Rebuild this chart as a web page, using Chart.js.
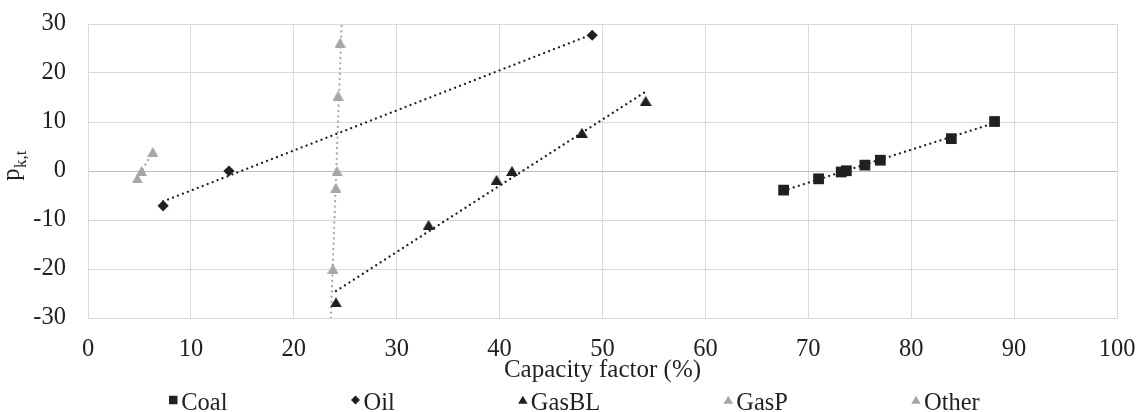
<!DOCTYPE html>
<html>
<head>
<meta charset="utf-8">
<script src="https://cdn.jsdelivr.net/npm/chart.js"></script>
<style>
  body { margin: 0; background: #fff; }
  #wrap { width: 1140px; height: 412px; }
</style>
</head>
<body>
<div id="wrap"><canvas id="graphicCapacity"></canvas></div>
<script>
// values (capacity factor %, p_k,t)
const coalX = [67.6, 71.0, 73.2, 73.7, 75.5, 77.0, 83.9, 88.1];
const coalY = [-3.9, -1.6, -0.2, 0.05, 1.2, 2.2, 6.6, 10.1];
const oilX = [7.3, 13.7, 49.0];
const oilY = [-7.1, 0.0, 27.7];
const gasBLX = [24.1, 33.1, 39.7, 41.2, 48.0, 54.2];
const gasBLY = [-26.8, -11.0, -1.8, 0.0, 7.8, 14.3];
const gasPX = [23.8, 24.1, 24.2, 24.3, 24.5];
const gasPY = [-19.9, -3.4, 0.0, 15.4, 26.2];
const otherX = [4.8, 5.2, 6.3];
const otherY = [-1.5, 0.0, 3.9];

// linear trend lines, end points as drawn
const coalTrendX = [67.6, 88.1];
const coalTrendY = [-4.0, 9.8];
const oilTrendX = [7.3, 49.0];
const oilTrendY = [-6.2, 27.9];
const gasBLTrendX = [24.1, 54.2];
const gasBLTrendY = [-24.5, 16.2];
const gasPTrendX = [23.6, 24.65];
const gasPTrendY = [-30, 30];
const otherTrendX = [4.8, 6.3];
const otherTrendY = [-1.5, 3.9];

const xTitle = 'Capacity factor (%)';

const BLACK = '#231f20';
const GREY = '#a6a6a6';
const TEXT = '#231f20';
const FONT = '"Liberation Serif", "Times New Roman", serif';

function points(xs, ys) {
	return xs.map(function(x, i) { return { x: x, y: ys[i] }; });
}

// triangle centred on its box (chart.js centres triangles on the circumcentre)
function triangleMarker(color, w, h) {
	const c = document.createElement('canvas');
	c.width = w;
	c.height = h;
	const g = c.getContext('2d');
	g.fillStyle = color;
	g.beginPath();
	g.moveTo(w / 2, 0);
	g.lineTo(w, h);
	g.lineTo(0, h);
	g.closePath();
	g.fill();
	return c;
}

function markers(label, xs, ys, shape, color, radius, legendShape) {
	return {
		label: label,
		data: points(xs, ys),
		showLine: false,
		pointStyle: shape,
		pointRadius: radius,
		pointBackgroundColor: color,
		pointBorderColor: color,
		pointBorderWidth: 0,
		legendShape: legendShape || shape,
		legendColor: color,
		order: 0
	};
}

function trend(xs, ys, color) {
	return {
		label: '',
		data: points(xs, ys),
		showLine: true,
		pointRadius: 0,
		borderColor: color,
		borderWidth: 2.3,
		borderDash: [0.01, 5.3],
		borderCapStyle: 'round',
		order: 1
	};
}

function drawShape(ctx, shape, cx, cy, s) {
	ctx.beginPath();
	if (shape === 'rect') {
		ctx.rect(cx - s / 2, cy - s / 2, s, s);
	} else if (shape === 'rectRot') {
		ctx.moveTo(cx - s / 2, cy);
		ctx.lineTo(cx, cy - s / 2);
		ctx.lineTo(cx + s / 2, cy);
		ctx.lineTo(cx, cy + s / 2);
	} else {
		ctx.moveTo(cx, cy - s * 0.45);
		ctx.lineTo(cx + s / 2, cy + s * 0.4);
		ctx.lineTo(cx - s / 2, cy + s * 0.4);
	}
	ctx.closePath();
	ctx.fill();
}

// legend spread across the bottom like the original
const bottomLegend = {
	id: 'bottomLegend',
	afterDraw: function(chart) {
		const ctx = chart.ctx;
		const items = chart.data.datasets.filter(function(d) { return d.legendShape; });
		const gap = 123;
		ctx.save();
		ctx.font = '24.5px ' + FONT;
		ctx.textBaseline = 'alphabetic';
		const widths = items.map(function(d) { return 13 + ctx.measureText(d.label).width; });
		const total = widths.reduce(function(a, b) { return a + b; }, 0) + gap * (items.length - 1);
		let x = chart.width / 2 + 4 - total / 2;
		items.forEach(function(d, i) {
			ctx.fillStyle = d.legendColor;
			const size = d.legendShape === 'rect' ? 8.5 : (d.legendShape === 'rectRot' ? 9 : 9.5);
			drawShape(ctx, d.legendShape, x + 5, 400, size);
			ctx.fillStyle = TEXT;
			ctx.fillText(d.label, x + 13, 410);
			x += widths[i] + gap;
		});
		ctx.restore();
	}
};

// y title with subscript
const yTitle = {
	id: 'yTitle',
	afterDraw: function(chart) {
		const ctx = chart.ctx;
		ctx.save();
		ctx.translate(0, 166);
		ctx.rotate(-Math.PI / 2);
		ctx.fillStyle = TEXT;
		ctx.textBaseline = 'alphabetic';
		ctx.font = '24.5px ' + FONT;
		const pw = ctx.measureText('p').width;
		ctx.font = '17px ' + FONT;
		const sw = ctx.measureText('k,t').width;
		const start = -(pw + sw) / 2;
		ctx.font = '24.5px ' + FONT;
		ctx.fillText('p', start, 19);
		ctx.font = '17px ' + FONT;
		ctx.fillText('k,t', start + pw + 0.5, 26);
		ctx.restore();
	}
};

Chart.defaults.font.family = FONT;
Chart.defaults.color = TEXT;

const ctx = document.getElementById('graphicCapacity').getContext('2d');

const graphicCapacity = new Chart(ctx, {
	type: 'scatter',
	data: {
		datasets: [
			markers('Coal', coalX, coalY, 'rect', BLACK, 7.6),
			markers('Oil', oilX, oilY, 'rectRot', BLACK, 5.6),
			markers('GasBL', gasBLX, gasBLY, triangleMarker(BLACK, 12, 10), BLACK, 6.8, 'triangle'),
			markers('GasP', gasPX, gasPY, triangleMarker(GREY, 11, 10), GREY, 6.5, 'triangle'),
			markers('Other', otherX, otherY, triangleMarker(GREY, 11, 10), GREY, 6.5, 'triangle'),
			trend(coalTrendX, coalTrendY, BLACK),
			trend(oilTrendX, oilTrendY, BLACK),
			trend(gasBLTrendX, gasBLTrendY, BLACK),
			trend(gasPTrendX, gasPTrendY, GREY),
			trend(otherTrendX, otherTrendY, GREY)
		]
	},
	options: {
		responsive: true,
		maintainAspectRatio: false,
		animation: false,
		layout: { padding: { left: 0, top: 24, right: 23, bottom: 27 } },
		plugins: {
			legend: { display: false },
			tooltip: { enabled: false }
		},
		scales: {
			x: {
				type: 'linear',
				min: 0,
				max: 100,
				ticks: { stepSize: 10, padding: 17, font: { size: 24.5 }, color: TEXT, maxRotation: 0 },
				grid: { color: '#d9d9d9', lineWidth: 1, drawTicks: false },
				border: { color: '#d9d9d9' },
				title: { display: true, text: xTitle, font: { size: 25 }, color: TEXT, padding: 0 },
				afterFit: function(scale) {
					scale.height = 67;
					scale.paddingLeft = 0;
					scale.paddingRight = 0;
				}
			},
			y: {
				type: 'linear',
				min: -30,
				max: 30,
				ticks: { stepSize: 10, padding: 22, font: { size: 24.5 }, color: TEXT },
				grid: {
					color: function(c) { return c.tick && c.tick.value === 0 ? '#bfbfbf' : '#d9d9d9'; },
					lineWidth: 1,
					drawTicks: false
				},
				border: { color: '#d9d9d9' },
				afterFit: function(scale) {
					scale.width = 88;
					scale.paddingTop = 0;
					scale.paddingBottom = 0;
				}
			}
		}
	},
	plugins: [bottomLegend, yTitle]
});
</script>
</body>
</html>
